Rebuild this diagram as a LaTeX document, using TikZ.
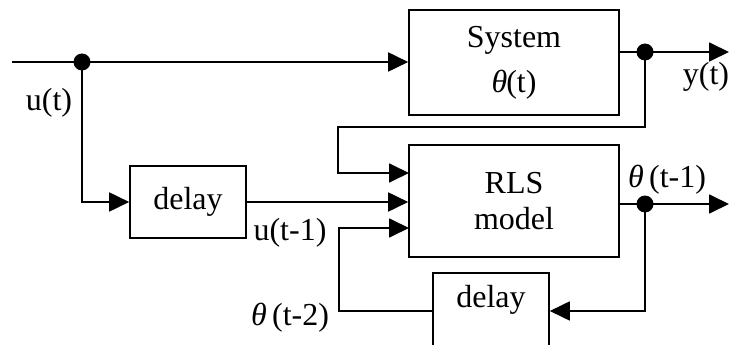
\documentclass[tikz,border=0pt]{standalone}
\usepackage{fontspec}
\setmainfont{Liberation Serif}
\usetikzlibrary{arrows.meta}
\begin{document}
\begin{tikzpicture}[x=1pt,y=-1pt,
  every node/.style={font=\fontsize{32}{36}\selectfont},
  blockbox/.style={draw,line width=1.6pt,inner sep=0pt,align=center},
  wire/.style={line width=1.8pt},
  arr/.style={wire,-{Triangle[length=20pt,width=19pt]}},
  dotc/.style={circle,fill=black,inner sep=0pt,minimum size=17pt},
  lbl/.style={inner sep=0pt}]
\useasboundingbox (0,0) rectangle (729,345);
\clip (0,0) rectangle (729,345);
% blocks
\node[blockbox,minimum width=210pt,minimum height=105pt] (sys) at (514,62.5) {System\\[9pt]\textit{θ}\kern-1pt(t)};
\node[blockbox,minimum width=210pt,minimum height=112pt] (rls) at (514,201) {RLS\\model};
\node[blockbox,minimum width=116pt,minimum height=72pt] (d1) at (188,202) {delay};
\node[blockbox,minimum width=116pt,minimum height=76pt] (d2) at (491,311) {};
\node[lbl] (d2t) at (491,300) {delay};
% junctions
\coordinate (in) at (12,62);
\node[dotc] (du) at (82,62) {};
\node[dotc] (dy) at (645,52) {};
\node[dotc] (dth) at (645,204) {};
\coordinate (yout) at (729,52);
\coordinate (thout) at (729,204);
\coordinate (fbA) at (645,127);
\coordinate (fbB) at (338,127);
\coordinate (fbC) at (338,173);
\coordinate (rlsA) at (409,173);
\coordinate (rlsB) at (409,228);
\coordinate (fbD) at (339,311);
\coordinate (fbE) at (339,228);
\coordinate (fbF) at (645,311);
% wires
\draw[wire] (in) -- (du.center);
\draw[arr] (du.center) -- (sys.west |- du.center);
\draw[arr] (du.center) |- (d1.west);
\draw[arr] (d1.east) -- (rls.west |- d1.east);
\draw[wire] (sys.east |- dy.center) -- (dy.center);
\draw[arr] (dy.center) -- (yout);
\draw[arr] (dy.center) -- (fbA) -- (fbB) -- (fbC) -- (rlsA);
\draw[wire] (rls.east |- dth.center) -- (dth.center);
\draw[arr] (dth.center) -- (thout);
\draw[arr] (dth.center) -- (fbF) -- (d2.east);
\draw[arr] (d2.west) -- (fbD) -- (fbE) -- (rlsB);
% labels
\node[lbl] (lu) at (49,103) {u(t)};
\node[lbl] (ly) at (706,77) {y(t)};
\node[lbl] (lth1) at (667,180) {\textit{θ}\,(t-1)};
\node[lbl] (lu1) at (290,233) {u(t-1)};
\node[lbl] (lth2) at (290,318) {\textit{θ}\,(t-2)};
\end{tikzpicture}
\end{document}
